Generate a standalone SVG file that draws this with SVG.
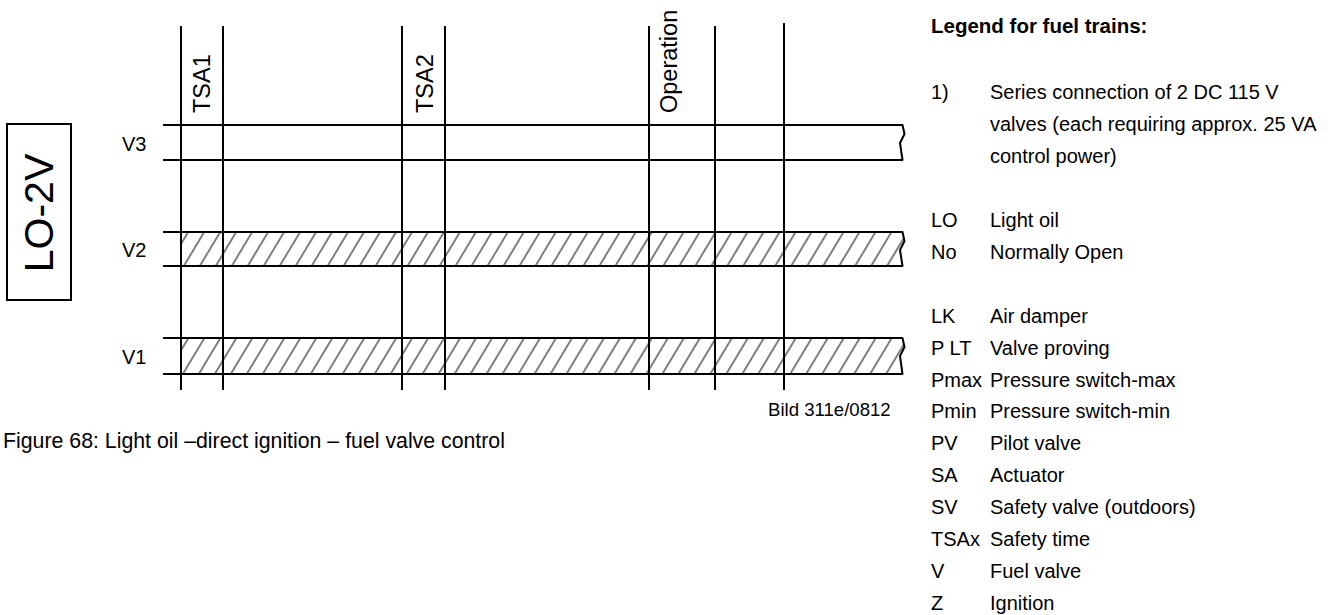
<svg xmlns="http://www.w3.org/2000/svg" width="1336" height="615" viewBox="0 0 1336 615">
<style>
  text { font-family: "Liberation Sans", Arial, sans-serif; fill: #000; }
  .lbl { font-size: 20px; }
  .rot { font-size: 23.5px; }
  .leg { font-size: 20px; }
  .title { font-size: 20.5px; font-weight: bold; }
  .cap { font-size: 21.3px; }
  .bild { font-size: 18.6px; }
  .bar { fill: none; stroke: #000; stroke-width: 2; stroke-linejoin: round; }
  .hatchfill { fill: url(#hatch); stroke: none; }
  .vline { stroke: #000; stroke-width: 2; }
  .box { fill: none; stroke: #000; stroke-width: 2; }
</style>
<defs>
  <pattern id="hatch" patternUnits="userSpaceOnUse" width="13.7" height="20" patternTransform="rotate(31)">
    <line x1="6.85" y1="-1" x2="6.85" y2="21" stroke="#000" stroke-width="1"/>
  </pattern>
</defs>
<rect width="1336" height="615" fill="#fff"/>

<g id="label-box">
  <rect class="box" x="7" y="124" width="64" height="176"/>
  <text transform="translate(53,213) rotate(-90)" text-anchor="middle" style="font-size:41px">LO-2V</text>
</g>

<g id="bar-V3">
  <path class="bar" d="M163,125 L902.5,125 L904.5,134 L900,143 L902.5,160 L163,160"/>
  <text class="lbl" x="122" y="151">V3</text>
</g>

<g id="bar-V2">
  <path class="hatchfill" d="M181,232 L902.5,232 L904.5,241 L900,250 L902.5,266 L181,266 Z"/>
  <path class="bar" d="M163,232 L902.5,232 L904.5,241 L900,250 L902.5,266 L163,266"/>
  <text class="lbl" x="122" y="257">V2</text>
</g>

<g id="bar-V1">
  <path class="hatchfill" d="M181,338 L902.5,338 L904.5,347 L900,356 L902.5,374 L181,374 Z"/>
  <path class="bar" d="M163,338 L902.5,338 L904.5,347 L900,356 L902.5,374 L163,374"/>
  <text class="lbl" x="122" y="364">V1</text>
</g>

<g id="connectors">
  <line class="vline" x1="181" y1="26" x2="181" y2="390"/>
  <line class="vline" x1="223" y1="26" x2="223" y2="390"/>
  <line class="vline" x1="402" y1="26" x2="402" y2="390"/>
  <line class="vline" x1="445" y1="26" x2="445" y2="390"/>
  <line class="vline" x1="649" y1="26" x2="649" y2="390"/>
  <line class="vline" x1="715" y1="26" x2="715" y2="390"/>
  <line class="vline" x1="784" y1="23" x2="784" y2="390"/>
</g>

<g id="phase-labels">
  <text class="rot" transform="translate(210,113) rotate(-90)">TSA1</text>
  <text class="rot" transform="translate(433,113) rotate(-90)">TSA2</text>
  <text class="rot" transform="translate(677,113) rotate(-90)">Operation</text>
</g>

<g id="captions">
  <text class="bild" x="768" y="416">Bild 311e/0812</text>
  <text class="cap" x="3" y="448">Figure 68: Light oil –direct ignition – fuel valve control</text>
</g>

<g id="legend">
  <text class="title" x="931" y="33">Legend for fuel trains:</text>
  <text class="leg" x="931" y="99">1)</text>
  <text class="leg" x="990" y="99">Series connection of 2 DC 115 V</text>
  <text class="leg" x="990" y="131">valves (each requiring approx. 25 VA</text>
  <text class="leg" x="990" y="163">control power)</text>
  <text class="leg" x="931" y="227">LO</text>
  <text class="leg" x="990" y="227">Light oil</text>
  <text class="leg" x="931" y="259">No</text>
  <text class="leg" x="990" y="259">Normally Open</text>
  <text class="leg" x="931" y="323">LK</text>
  <text class="leg" x="990" y="323">Air damper</text>
  <text class="leg" x="931" y="355">P LT</text>
  <text class="leg" x="990" y="355">Valve proving</text>
  <text class="leg" x="931" y="387">Pmax</text>
  <text class="leg" x="990" y="387">Pressure switch-max</text>
  <text class="leg" x="931" y="418">Pmin</text>
  <text class="leg" x="990" y="418">Pressure switch-min</text>
  <text class="leg" x="931" y="450">PV</text>
  <text class="leg" x="990" y="450">Pilot valve</text>
  <text class="leg" x="931" y="482">SA</text>
  <text class="leg" x="990" y="482">Actuator</text>
  <text class="leg" x="931" y="514">SV</text>
  <text class="leg" x="990" y="514">Safety valve (outdoors)</text>
  <text class="leg" x="931" y="546">TSAx</text>
  <text class="leg" x="990" y="546">Safety time</text>
  <text class="leg" x="931" y="578">V</text>
  <text class="leg" x="990" y="578">Fuel valve</text>
  <text class="leg" x="931" y="610">Z</text>
  <text class="leg" x="990" y="610">Ignition</text>
</g>
</svg>
